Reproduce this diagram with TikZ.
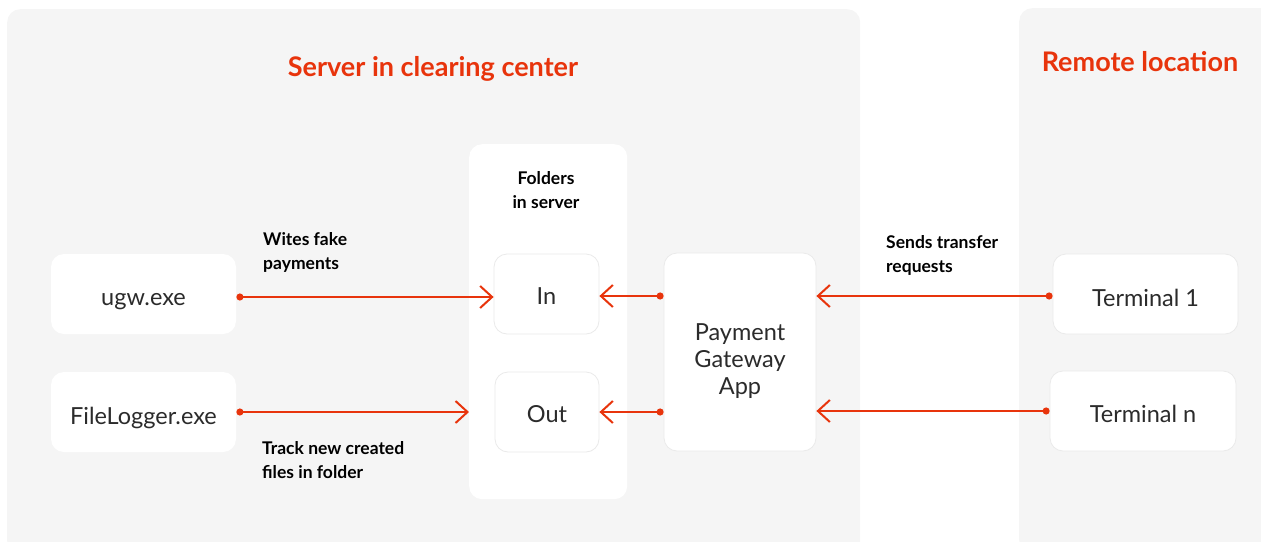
\documentclass[tikz,border=0pt]{standalone}
\usepackage{fontspec}
\setmainfont{Lato}
\usetikzlibrary{arrows.meta}
\definecolor{accent}{HTML}{E8340C}
\definecolor{panelbg}{HTML}{F5F5F5}
\definecolor{boxline}{HTML}{EAEAEA}
\definecolor{boxtext}{HTML}{2B2B2B}
\tikzset{
  panel/.style={fill=panelbg, draw=none, rounded corners=13pt, inner sep=0pt, anchor=north west},
  column/.style={fill=white, draw=none, rounded corners=13pt, inner sep=0pt, anchor=north west},
  box/.style={fill=white, draw=boxline, line width=0.8pt, rounded corners=13pt, inner sep=0pt},
  plainbox/.style={box, draw=none},
  boxlbl/.style={align=center, text=boxtext, font=\fontsize{23.5}{27}\selectfont, inner sep=0pt},
  title/.style={text=accent, font=\bfseries\fontsize{27}{30}\selectfont},
  lbl/.style={align=left, anchor=west, text=black, font=\bfseries\fontsize{17.5}{24}\selectfont, inner sep=0pt},
  conn/.style={draw=accent, line width=2pt,
    {Circle[length=7pt]}-{Straight Barb[length=12pt,width=22pt,line width=2pt]}},
}
\begin{document}
\begin{tikzpicture}[x=1pt,y=-1pt]
\useasboundingbox (0,0) rectangle (1261,541);
\clip (0,0) rectangle (1261,541);
% panels
\node[panel, minimum width=853pt, minimum height=545pt] (server) at (7,9) {};
\node[panel, minimum width=260pt, minimum height=545pt] (remote) at (1019,8) {};
\node[title] (servertitle) at (433,69) {Server in clearing center};
\node[title] (remotetitle) at (1140,61.5) {Remote location};
% folders column
\node[column, minimum width=158pt, minimum height=355pt] (folders) at (469,144) {};
\node[align=center, font=\bfseries\fontsize{17.5}{24}\selectfont, inner sep=0pt] (folderstitle) at (546,190) {Folders\\in server};
% boxes
\node[plainbox, minimum width=185pt, minimum height=80pt,
  label={[boxlbl, yshift=-7.5pt]center:ugw.exe}] (ugw) at (143.5,294) {};
\node[plainbox, minimum width=185pt, minimum height=80pt,
  label={[boxlbl, yshift=-6pt]center:FileLogger.exe}] (fl) at (143.5,412) {};
\node[box, minimum width=105pt, minimum height=80pt,
  label={[boxlbl, yshift=-2pt]center:In}] (in) at (546.5,294) {};
\node[box, minimum width=104pt, minimum height=80pt,
  label={[boxlbl, yshift=-2pt]center:Out}] (out) at (547,412) {};
\node[box, minimum width=152pt, minimum height=198pt,
  label={[boxlbl, yshift=-9pt]center:Payment\\Gateway\\App}] (pga) at (740,352) {};
\node[box, minimum width=185pt, minimum height=80pt,
  label={[boxlbl, yshift=-4pt]center:Terminal 1}] (t1) at (1145.5,294) {};
\node[box, minimum width=186pt, minimum height=80pt,
  label={[boxlbl, yshift=-3pt]center:Terminal n}] (tn) at (1143,411) {};
% labels
\node[lbl] (lblw) at (263,252) {Wites fake\\payments};
\node[lbl] (lblt) at (262,460) {Track new created\\files in folder};
\node[lbl] (lbls) at (886,255) {Sends transfer\\requests};
% connectors
\draw[conn] ([yshift=-3pt]ugw.east) -- ([yshift=-3pt]in.west);
\draw[conn] (fl.east) -- (fl.east -| folders.west);
\draw[conn] ([yshift=-2pt]pga.west |- in.east) -- ([yshift=-2pt]in.east);
\draw[conn] (pga.west |- out.east) -- (out.east);
\draw[conn] ([yshift=-2pt]t1.west) -- ([yshift=-2pt]pga.east |- t1.west);
\draw[conn] (tn.west) -- (pga.east |- tn.west);
\end{tikzpicture}
\end{document}
